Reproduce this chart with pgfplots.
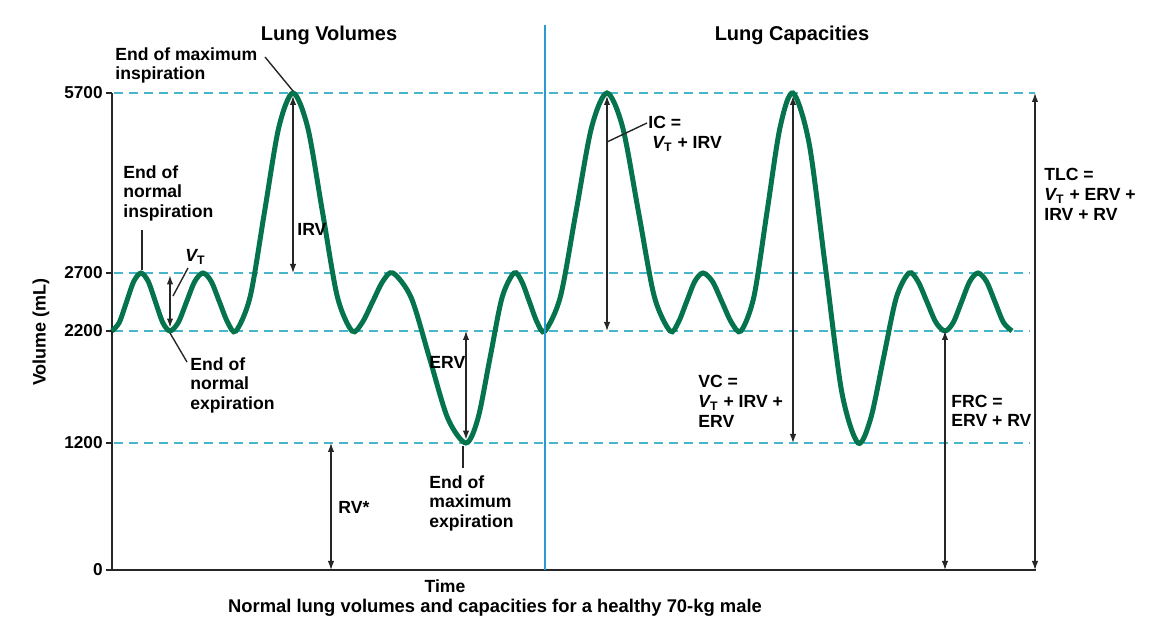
\documentclass[border=0pt]{standalone}
\usepackage{pgfplots}
\pgfplotsset{compat=1.18}
\usepackage{fontspec}
\setmainfont{Liberation Sans}
\usetikzlibrary{arrows.meta}
\definecolor{curvegreen}{HTML}{05744C}
\definecolor{refdash}{HTML}{48B6C8}
\definecolor{divider}{HTML}{2A9AD0}
\newcommand\anno{\bfseries\fontsize{8.8}{10}\selectfont}
\newcommand\VT{{\itshape V}\textsubscript{T}}
% text placed by picture position (x px, baseline y px)
\newcommand\T[3]{\node[anchor=base west, inner sep=0pt, font=\anno] at ({(#1-112)*0.5pt},{(570-#2)*0.5pt}) {#3};}
\newcommand\Lead[4]{\draw[line width=0.7pt, black!85] ({(#1-112)*0.5pt},{(570-#2)*0.5pt}) -- ({(#3-112)*0.5pt},{(570-#4)*0.5pt});}
\tikzset{dim/.style={{Latex[length=4.5pt,width=3.2pt]}-{Latex[length=4.5pt,width=3.2pt]}, line width=0.6pt, black!85}}
\begin{document}
\begin{tikzpicture}
\begin{axis}[
  at={(0,0)}, anchor=south west,
  scale only axis, width=462pt, height=238.5pt,
  xmin=0, xmax=924, ymin=0, ymax=5700,
  % schematic (piecewise linear) volume scale of the figure
  y coord trafo/.code={%
    \begingroup\pgfkeys{/pgf/fpu=true,/pgf/fpu/output format=fixed}%
    \pgfmathparse{#1<=1200 ? #1/1200*127 : (#1<=2200 ? 127+(#1-1200)*0.112 : (#1<=2700 ? 239+(#1-2200)*0.116 : 297+(#1-2700)*0.06))}%
    \xdef\lvtrafo{\pgfmathresult}\endgroup\let\pgfmathresult\lvtrafo},
  axis x line*=bottom, axis y line*=left,
  clip=false,
  xtick=\empty,
  ytick={0,1200,2200,2700,5700},
  yticklabels={0,1200,2200,2700,5700},
  tick align=outside, major tick length=3pt,
  y tick label style={font=\bfseries\fontsize{8.6}{10}\selectfont, inner sep=1.5pt},
  ytick style={line width=0.8pt, black!85},
  axis line style={line width=1pt, black!85},
]
% reference levels
\addplot[refdash, line width=1pt, dash pattern=on 4.5pt off 3pt] coordinates {(2,5700) (923,5700)};
\addplot[refdash, line width=1pt, dash pattern=on 4.5pt off 3pt] coordinates {(2,2700) (918,2700)};
\addplot[refdash, line width=1pt, dash pattern=on 4.5pt off 3pt] coordinates {(2,2200) (918,2200)};
\addplot[refdash, line width=1pt, dash pattern=on 4.5pt off 3pt] coordinates {(2,1200) (918,1200)};
% spirometer trace (time in arbitrary units, volume in mL)
\addplot[curvegreen, line width=2.5pt, smooth] coordinates {
(0,2200) (7.25,2273) (14.5,2450) (21.75,2627)
(29,2700) (36.25,2627) (43.5,2450) (50.75,2273)
(58,2200) (66.25,2273) (74.5,2450) (82.75,2627)
(91,2700) (99.25,2627) (107.5,2450) (115.75,2273)
(124,2200) (138.25,2499) (152.5,3717) (166.75,5122)
(181,5700) (195.75,5122) (210.5,3717) (225.25,2499)
(240,2200) (250.25,2273) (260.5,2450) (270.75,2627)
(281,2700) (299.25,2486) (317.5,1959) (335.75,1421)
(354,1200) (366,1421) (378,1959) (390,2486)
(402,2700) (409.75,2627) (417.5,2450) (425.25,2273)
(433,2200) (448.5,2499) (464,3717) (479.5,5122)
(495,5700) (510.75,5122) (526.5,3717) (542.25,2499)
(558,2200) (566.25,2273) (574.5,2450) (582.75,2627)
(591,2700) (600.5,2627) (610,2450) (619.5,2273)
(629,2200) (642,2499) (655,3717) (668,5122)
(681,5700) (697.25,4848) (713.5,2783) (729.75,1656)
(746,1200) (758.75,1421) (771.5,1959) (784.25,2486)
(797,2700) (806,2627) (815,2450) (824,2273)
(833,2200) (841.25,2273) (849.5,2450) (857.75,2627)
(866,2700) (874.5,2627) (883,2450) (891.5,2273)
(900,2200)};
% dimension arrows
\draw[dim] (axis cs:58,2230) -- (axis cs:58,2680);
\draw[dim] (axis cs:181,5650) -- (axis cs:181,2700);
\draw[dim] (axis cs:219,1200) -- (axis cs:219,0);
\draw[dim] (axis cs:354,2200) -- (axis cs:354,1230);
\draw[dim] (axis cs:495,5650) -- (axis cs:495,2200);
\draw[dim] (axis cs:681,5650) -- (axis cs:681,1200);
\draw[dim] (axis cs:833,2200) -- (axis cs:833,0);
\draw[dim] (axis cs:923,5700) -- (axis cs:923,0);
\end{axis}
% divider between the two panels
\draw[divider, line width=0.8pt] ({(545-112)*0.5pt},{(570-25)*0.5pt}) -- ({(545-112)*0.5pt},0pt);
% titles
\node[anchor=base, inner sep=0pt, font=\bfseries\fontsize{10}{12}\selectfont] at ({(329-112)*0.5pt},{(570-41)*0.5pt}) {Lung Volumes};
\node[anchor=base, inner sep=0pt, font=\bfseries\fontsize{10}{12}\selectfont] at ({(792-112)*0.5pt},{(570-41)*0.5pt}) {Lung Capacities};
% axis labels
\node[rotate=90, inner sep=0pt, font=\bfseries\fontsize{9}{11}\selectfont] at ({(41-112)*0.5pt},{(570-332)*0.5pt}) {Volume (mL)};
\node[anchor=base, inner sep=0pt, font=\bfseries\fontsize{8.8}{10}\selectfont] at ({(445-112)*0.5pt},{(570-593)*0.5pt}) {Time};
\node[anchor=base, inner sep=0pt, font=\bfseries\fontsize{9.2}{11}\selectfont] at ({(495-112)*0.5pt},{(570-613)*0.5pt}) {Normal lung volumes and capacities for a healthy 70-kg male};
% annotations
\T{115}{61}{End of maximum}
\T{115}{80}{inspiration}
\Lead{265}{57}{293}{91}
\T{123}{179}{End of}
\T{123}{198}{normal}
\T{123}{218}{inspiration}
\Lead{142}{230}{142}{270}
\T{185}{262}{\VT}
\Lead{173}{296}{188}{268}
\T{297}{236}{IRV}
\T{190}{371}{End of}
\T{190}{390}{normal}
\T{190}{410}{expiration}
\Lead{170}{333}{187}{362}
\T{338}{514}{RV*}
\T{429}{369}{ERV}
\T{429}{489}{End of}
\T{429}{508}{maximum}
\T{429}{528}{expiration}
\Lead{463}{446}{463}{468}
\T{648}{129}{IC =}
\T{652}{149}{\VT{} + IRV}
\Lead{607}{142}{647}{123}
\T{698}{388}{VC =}
\T{698}{408}{\VT{} + IRV +}
\T{698}{428}{ERV}
\T{951}{408}{FRC =}
\T{951}{427}{ERV + RV}
\T{1044}{181}{TLC =}
\T{1044}{201}{\VT{} + ERV +}
\T{1044}{221}{IRV + RV}
\pgfresetboundingbox
\path[use as bounding box] (-56pt,-28pt) rectangle (528pt,285pt);
\end{tikzpicture}
\end{document}
